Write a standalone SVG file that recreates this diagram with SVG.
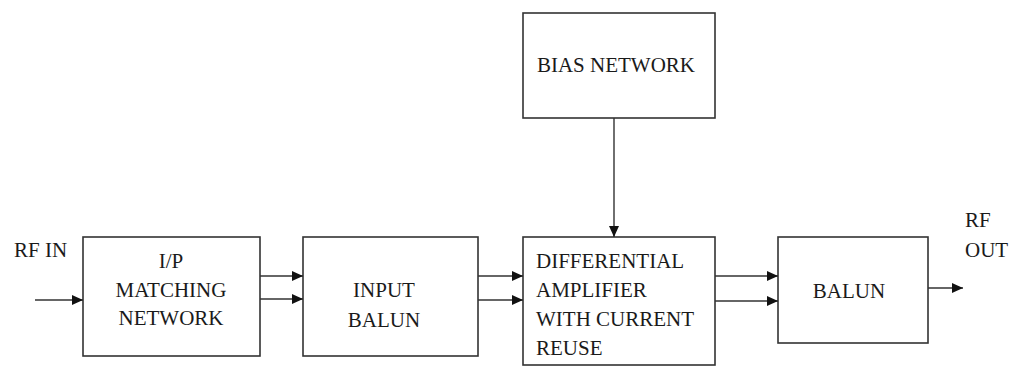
<svg xmlns="http://www.w3.org/2000/svg" width="1009" height="366" viewBox="0 0 1009 366">
<style>
.box{fill:#fff;stroke:#333;stroke-width:1.6}
.t{font-family:'Liberation Serif','Times New Roman','DejaVu Serif',serif;font-size:21px;fill:#1a1a1a}
.c{text-anchor:middle}
.wire{stroke:#333;stroke-width:1.4;fill:none}
</style>
<defs>
<marker id="ah" markerUnits="userSpaceOnUse" markerWidth="12" markerHeight="10" refX="11" refY="5" orient="auto">
<path d="M0,0 L11,5 L0,10 Z" fill="#111"/>
</marker>
</defs>
<rect width="1009" height="366" fill="#fff"/>
<g id="bias">
<rect class="box" x="523" y="13" width="192" height="105"/>
<text class="t c" x="616" y="72">BIAS NETWORK</text>
</g>
<g id="matching">
<rect class="box" x="83" y="237" width="177" height="119"/>
<text class="t c" x="171" y="268">I/P</text>
<text class="t c" x="171" y="297">MATCHING</text>
<text class="t c" x="171" y="325">NETWORK</text>
</g>
<g id="inputbalun">
<rect class="box" x="303" y="237" width="175" height="119"/>
<text class="t c" x="384" y="297">INPUT</text>
<text class="t c" x="384" y="327">BALUN</text>
</g>
<g id="diffamp">
<rect class="box" x="523" y="237" width="192" height="128"/>
<text class="t" x="536" y="268">DIFFERENTIAL</text>
<text class="t" x="536" y="297">AMPLIFIER</text>
<text class="t" x="536" y="326">WITH CURRENT</text>
<text class="t" x="536" y="355">REUSE</text>
</g>
<g id="balun">
<rect class="box" x="778" y="237" width="150" height="106"/>
<text class="t c" x="849" y="298">BALUN</text>
</g>
<g id="rfin">
<text class="t" x="14" y="257">RF IN</text>
</g>
<g id="rfout">
<text class="t" x="965" y="227">RF</text>
<text class="t" x="965" y="257">OUT</text>
</g>
<g id="connectors">
<line class="wire" x1="35" y1="300" x2="83" y2="300" marker-end="url(#ah)"/>
<line class="wire" x1="260" y1="276" x2="303" y2="276" marker-end="url(#ah)"/>
<line class="wire" x1="260" y1="299" x2="303" y2="299" marker-end="url(#ah)"/>
<line class="wire" x1="478" y1="276" x2="523" y2="276" marker-end="url(#ah)"/>
<line class="wire" x1="478" y1="300" x2="523" y2="300" marker-end="url(#ah)"/>
<line class="wire" x1="715" y1="276" x2="778" y2="276" marker-end="url(#ah)"/>
<line class="wire" x1="715" y1="301" x2="778" y2="301" marker-end="url(#ah)"/>
<line class="wire" x1="928" y1="288" x2="963" y2="288" marker-end="url(#ah)"/>
<line class="wire" x1="614" y1="118" x2="614" y2="237" marker-end="url(#ah)"/>
</g>
</svg>
